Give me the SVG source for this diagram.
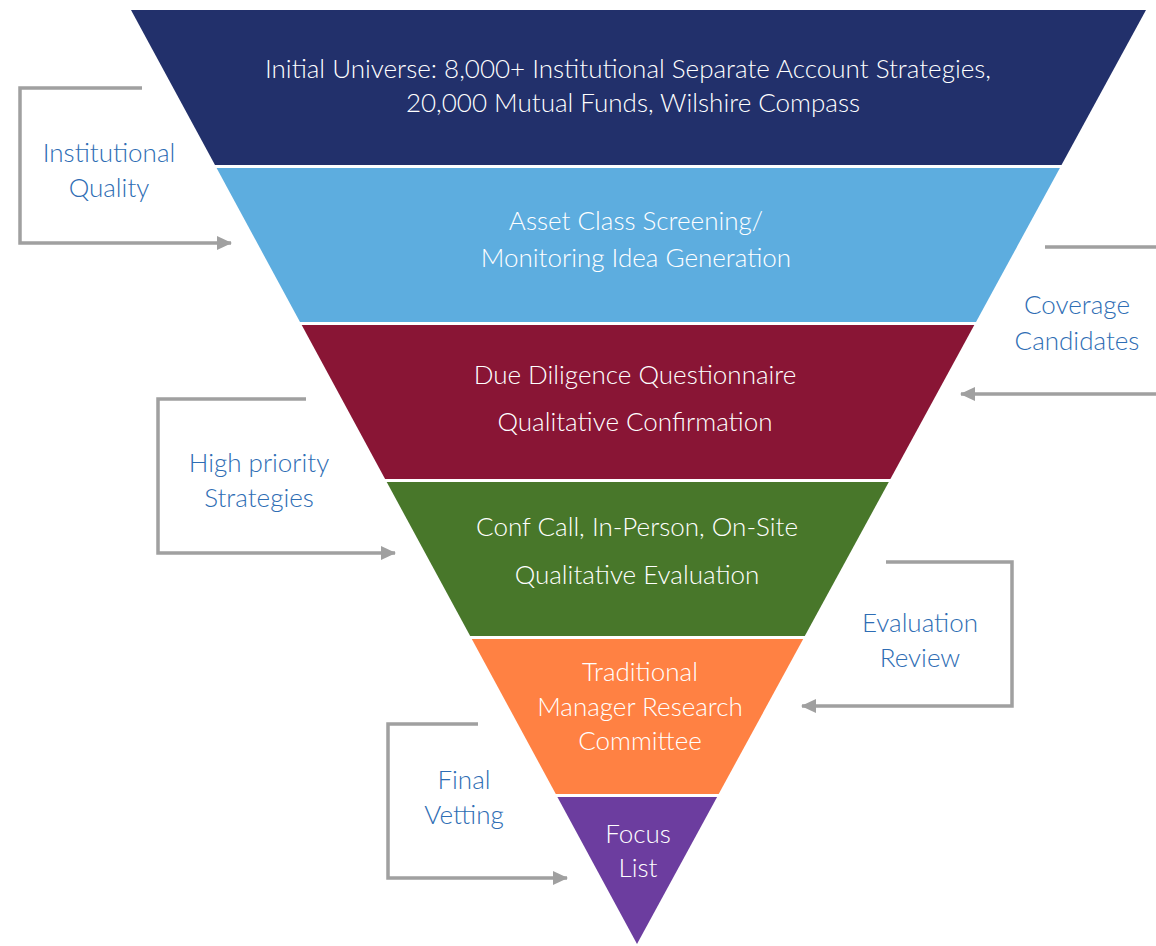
<svg xmlns="http://www.w3.org/2000/svg" width="1156" height="946" viewBox="0 0 1156 946">
<defs>
<marker id="arr" markerUnits="userSpaceOnUse" markerWidth="16" markerHeight="16" viewBox="0 0 16 16" refX="14" refY="8" orient="auto">
<path d="M0,1 L15,8 L0,15 Z" fill="#A0A0A0"/>
</marker>
<style>
.w{font-family:Lato,"Open Sans","Liberation Sans",sans-serif;font-weight:300;font-size:26px;fill:#FFFFFF;text-anchor:middle}
.b{font-family:Lato,"Open Sans","Liberation Sans",sans-serif;font-weight:300;font-size:26px;fill:#2E6DB4;text-anchor:middle}
.c{fill:none;stroke:#A0A0A0;stroke-width:3.5;marker-end:url(#arr)}
</style>
</defs>
<rect width="1156" height="946" fill="#FFFFFF"/>
<g id="band1">
<polygon points="131,10 1146,10 1061.5,165 215,165" fill="#22306B"/>
<text class="w" x="628" y="78">Initial Universe: 8,000+ Institutional Separate Account Strategies,</text>
<text class="w" x="633" y="112">20,000 Mutual Funds, Wilshire Compass</text>
</g>
<g id="band2">
<polygon points="216.6,168 1059.9,168 976,322 300,322" fill="#5DADDF"/>
<text class="w" x="636" y="230">Asset Class Screening/</text>
<text class="w" x="636" y="267">Monitoring Idea Generation</text>
</g>
<g id="band3">
<polygon points="301.7,325 974.3,325 890.4,479 385.1,479" fill="#891535"/>
<text class="w" x="635" y="384">Due Diligence Questionnaire</text>
<text class="w" x="635" y="431">Qualitative Confirmation</text>
</g>
<g id="band4">
<polygon points="386.7,482 888.8,482 804.8,636 470.2,636" fill="#48772A"/>
<text class="w" x="637" y="536">Conf Call, In-Person, On-Site</text>
<text class="w" x="637" y="584">Qualitative Evaluation</text>
</g>
<g id="band5">
<polygon points="471.8,639 803.2,639 718.7,794 555.8,794" fill="#FF8143"/>
<text class="w" x="640" y="681">Traditional</text>
<text class="w" x="640" y="716">Manager Research</text>
<text class="w" x="640" y="750">Committee</text>
</g>
<g id="band6">
<polygon points="557.4,797 717.1,797 637,944" fill="#6C3D9F"/>
<text class="w" x="638" y="843">Focus</text>
<text class="w" x="638" y="877">List</text>
</g>
<g id="connectors">
<path class="c" d="M142,88 H20 V243 H231"/>
<path class="c" d="M1045,247 H1156 M1156,394 H961"/>
<path class="c" d="M306,399 H158 V553 H395"/>
<path class="c" d="M886,562 H1012 V706 H802"/>
<path class="c" d="M478,724 H388 V878 H567"/>
</g>
<g id="label-institutional">
<text class="b" x="109" y="162">Institutional</text>
<text class="b" x="109" y="197">Quality</text>
</g>
<g id="label-coverage">
<text class="b" x="1077" y="314">Coverage</text>
<text class="b" x="1077" y="350">Candidates</text>
</g>
<g id="label-highpriority">
<text class="b" x="259" y="472">High priority</text>
<text class="b" x="259" y="507">Strategies</text>
</g>
<g id="label-evaluation">
<text class="b" x="920" y="632">Evaluation</text>
<text class="b" x="920" y="667">Review</text>
</g>
<g id="label-final">
<text class="b" x="464" y="789">Final</text>
<text class="b" x="464" y="824">Vetting</text>
</g>
</svg>
